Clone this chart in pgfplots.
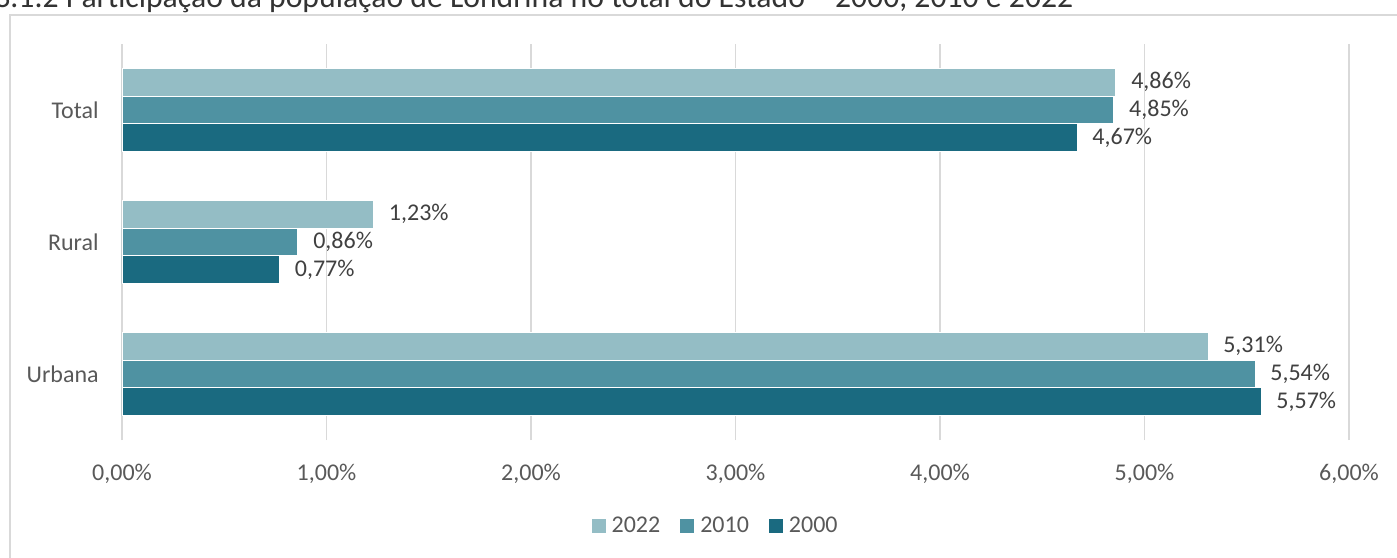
\documentclass[border=0pt]{standalone}
\usepackage{fontspec}
\setmainfont{Carlito}
\usepackage{graphicx}
\usepackage{pgfplots}
\pgfplotsset{compat=1.18}

\definecolor{c2022}{HTML}{94BDC5}
\definecolor{c2010}{HTML}{4F92A2}
\definecolor{c2000}{HTML}{1A6A80}
\definecolor{gridgray}{HTML}{D9D9D9}
\definecolor{ticktext}{HTML}{595959}
\definecolor{labeltext}{HTML}{404040}

\begin{document}
\begin{tikzpicture}
% page = 1397 x 557 px, 1 px = 0.5pt
\path[use as bounding box] (0,0) rectangle (698.5pt,-278.5pt);
\clip (0,0) rectangle (698.5pt,-278.5pt);

% chart frame (runs off the right and bottom edges)
\draw[gridgray, line width=0.75pt] (5pt,-290pt) -- (5pt,-7.5pt) -- (710pt,-7.5pt);

% title, cut at the top as in the source
\node[anchor=base west, inner sep=0pt, text=black!80] at (-3pt,-3.9pt)
  {\resizebox{539.5pt}{!}{\fontsize{14}{16}\selectfont 3.1.2 Participação da população de Londrina no total do Estado – 2000, 2010 e 2022}};

\begin{axis}[
  at={(61pt,-220pt)}, anchor=south west,
  scale only axis,
  width=613.5pt, height=198pt,
  xbar,
  bar width=13.85pt,
  xmin=0, xmax=6,
  ymin=-0.5, ymax=2.5,
  xtick={0,1,2,3,4,5,6},
  ytick={0,1,2},
  yticklabels={Urbana,Rural,Total},
  xticklabel={\pgfmathprintnumber[fixed,fixed zerofill,precision=2,use comma]{\tick}\%},
  /pgf/number format/assume math mode=true,
  xmajorgrids,
  grid style={color=gridgray, line width=0.75pt},
  major tick length=0pt,
  axis line style={draw=none},
  tick label style={font=\fontsize{12}{14}\selectfont, text=ticktext},
  xticklabel style={inner sep=0pt, yshift=-12pt},
  yticklabel style={inner sep=0pt, xshift=-11.5pt},
  clip=false,
  point meta=x,
  nodes near coords={\pgfmathprintnumber[fixed,fixed zerofill,precision=2,use comma]{\pgfplotspointmeta}\%},
  nodes near coords align=horizontal,
  every node near coord/.append style={inner sep=0pt, xshift=7.5pt,
    font=\fontsize{12}{14}\selectfont, text=labeltext},
  legend columns=3,
  reverse legend,
  legend style={draw=none, fill=none, at={(0.483,-0.217)}, anchor=center,
    font=\fontsize{12}{14}\selectfont, text=ticktext,
    nodes={inner sep=0pt},
    column sep=3pt,
    /tikz/every even column/.append style={column sep=10pt}},
  legend image code/.code={\fill[#1, draw=none] (0pt,-3.5pt) rectangle (7pt,3.5pt);},
]
\addplot[fill=c2000, draw=white, line width=0.4pt, bar shift=-13.85pt] coordinates {
  (5.57,0) (0.77,1) (4.67,2)
};
\addlegendentry{2000}
\addplot[fill=c2010, draw=white, line width=0.4pt, bar shift=0pt] coordinates {
  (5.54,0) (0.86,1) (4.85,2)
};
\addlegendentry{2010}
\addplot[fill=c2022, draw=white, line width=0.4pt, bar shift=13.85pt] coordinates {
  (5.31,0) (1.23,1) (4.86,2)
};
\addlegendentry{2022}
\end{axis}
\end{tikzpicture}
\end{document}
